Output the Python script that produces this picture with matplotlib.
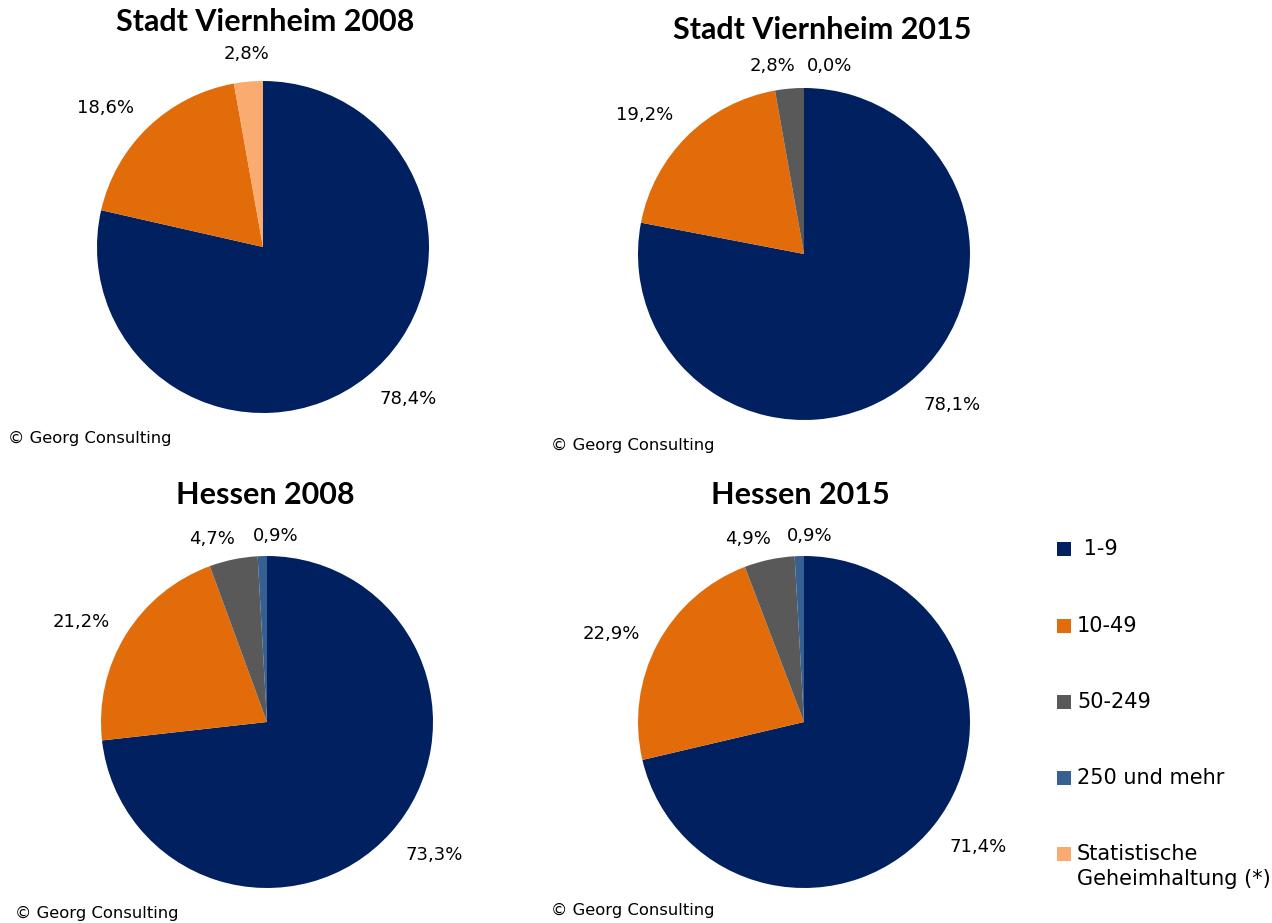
import matplotlib
matplotlib.use("Agg")
import matplotlib.pyplot as plt

plt.rcParams['font.family'] = ['DejaVu Sans']

categories = [" 1-9", "10-49", "50-249", "250 und mehr", "Statistische\nGeheimhaltung (*)"]
colors = ["#002060", "#E36C0A", "#595959", "#376092", "#FAAB70"]

titles = ["Stadt Viernheim 2008", "Stadt Viernheim 2015", "Hessen 2008", "Hessen 2015"]
viernheim_2008 = [78.4, 18.6, None, None, 2.8]
viernheim_2015 = [78.1, 19.2, 2.8, 0.0, None]
hessen_2008 = [73.3, 21.2, 4.7, 0.9, None]
hessen_2015 = [71.4, 22.9, 4.9, 0.9, None]
series = [viernheim_2008, viernheim_2015, hessen_2008, hessen_2015]

W, H = 1272, 923
fig = plt.figure(figsize=(W / 100, H / 100), dpi=100)

# pie centres in pixels (from top-left), radius in pixels
centres = [(263, 247), (804, 254), (267, 722), (804, 722)]
R = 166
title_pos = [(265, 22), (822, 30), (265, 495), (800, 495)]
credit_pos = [(8, 438), (551, 445), (15, 913), (551, 910)]

# label positions in radius units, as Excel placed them
label_pos = {
    (0, 0): (0.873, -0.916), (0, 1): (-0.95, 0.84), (0, 4): (-0.10, 1.16),
    (1, 0): (0.89, -0.91), (1, 1): (-0.96, 0.84), (1, 2): (-0.19, 1.13), (1, 3): (0.156, 1.13),
    (2, 0): (1.006, -0.80), (2, 1): (-1.12, 0.60), (2, 2): (-0.33, 1.10), (2, 3): (0.054, 1.12),
    (3, 0): (1.05, -0.75), (3, 1): (-1.16, 0.53), (3, 2): (-0.34, 1.10), (3, 3): (0.036, 1.12),
}

half = 200
lim = half / R
for k, vals in enumerate(series):
    cx, cy = centres[k]
    ax = fig.add_axes([(cx - half) / W, 1 - (cy + half) / H, 2 * half / W, 2 * half / H])
    idx = [i for i, v in enumerate(vals) if v is not None]
    v = [vals[i] for i in idx]
    c = [colors[i] for i in idx]
    labels = [f"{vals[i]:.1f}%".replace(".", ",") for i in idx]
    wedges, texts = ax.pie(v, colors=c, startangle=90, counterclock=False,
                           labels=labels, labeldistance=1.27,
                           wedgeprops=dict(linewidth=0),
                           textprops=dict(ha="center", va="center", fontsize=13, color="#000000"))
    for t, i in zip(texts, idx):
        if (k, i) in label_pos:
            t.set_position(label_pos[(k, i)])
    ax.set_xlim(-lim, lim)
    ax.set_ylim(-lim, lim)
    ax.set_aspect("equal")
    ax.axis("off")

    tx, ty = title_pos[k]
    fig.text(tx / W, 1 - ty / H, titles[k], ha="center", va="center",
             fontsize=22, fontweight="bold", family="Lato")
    gx, gy = credit_pos[k]
    fig.text(gx / W, 1 - gy / H, "© Georg Consulting", ha="left", va="center", fontsize=11.8)

# legend drawn by hand so the square sits on the first text line
legend_y = [549, 626, 702, 778, 854]
for name, col, ly in zip(categories, colors, legend_y):
    fig.patches.append(plt.Rectangle((1057 / W, 1 - (ly + 7) / H), 14 / W, 14 / H,
                                     facecolor=col, edgecolor="none",
                                     transform=fig.transFigure, figure=fig))
    fig.text(1077 / W, 1 - (ly - 10) / H, name, ha="left", va="top",
             fontsize=15, linespacing=1.3)

fig.savefig("out.png", dpi=100)
